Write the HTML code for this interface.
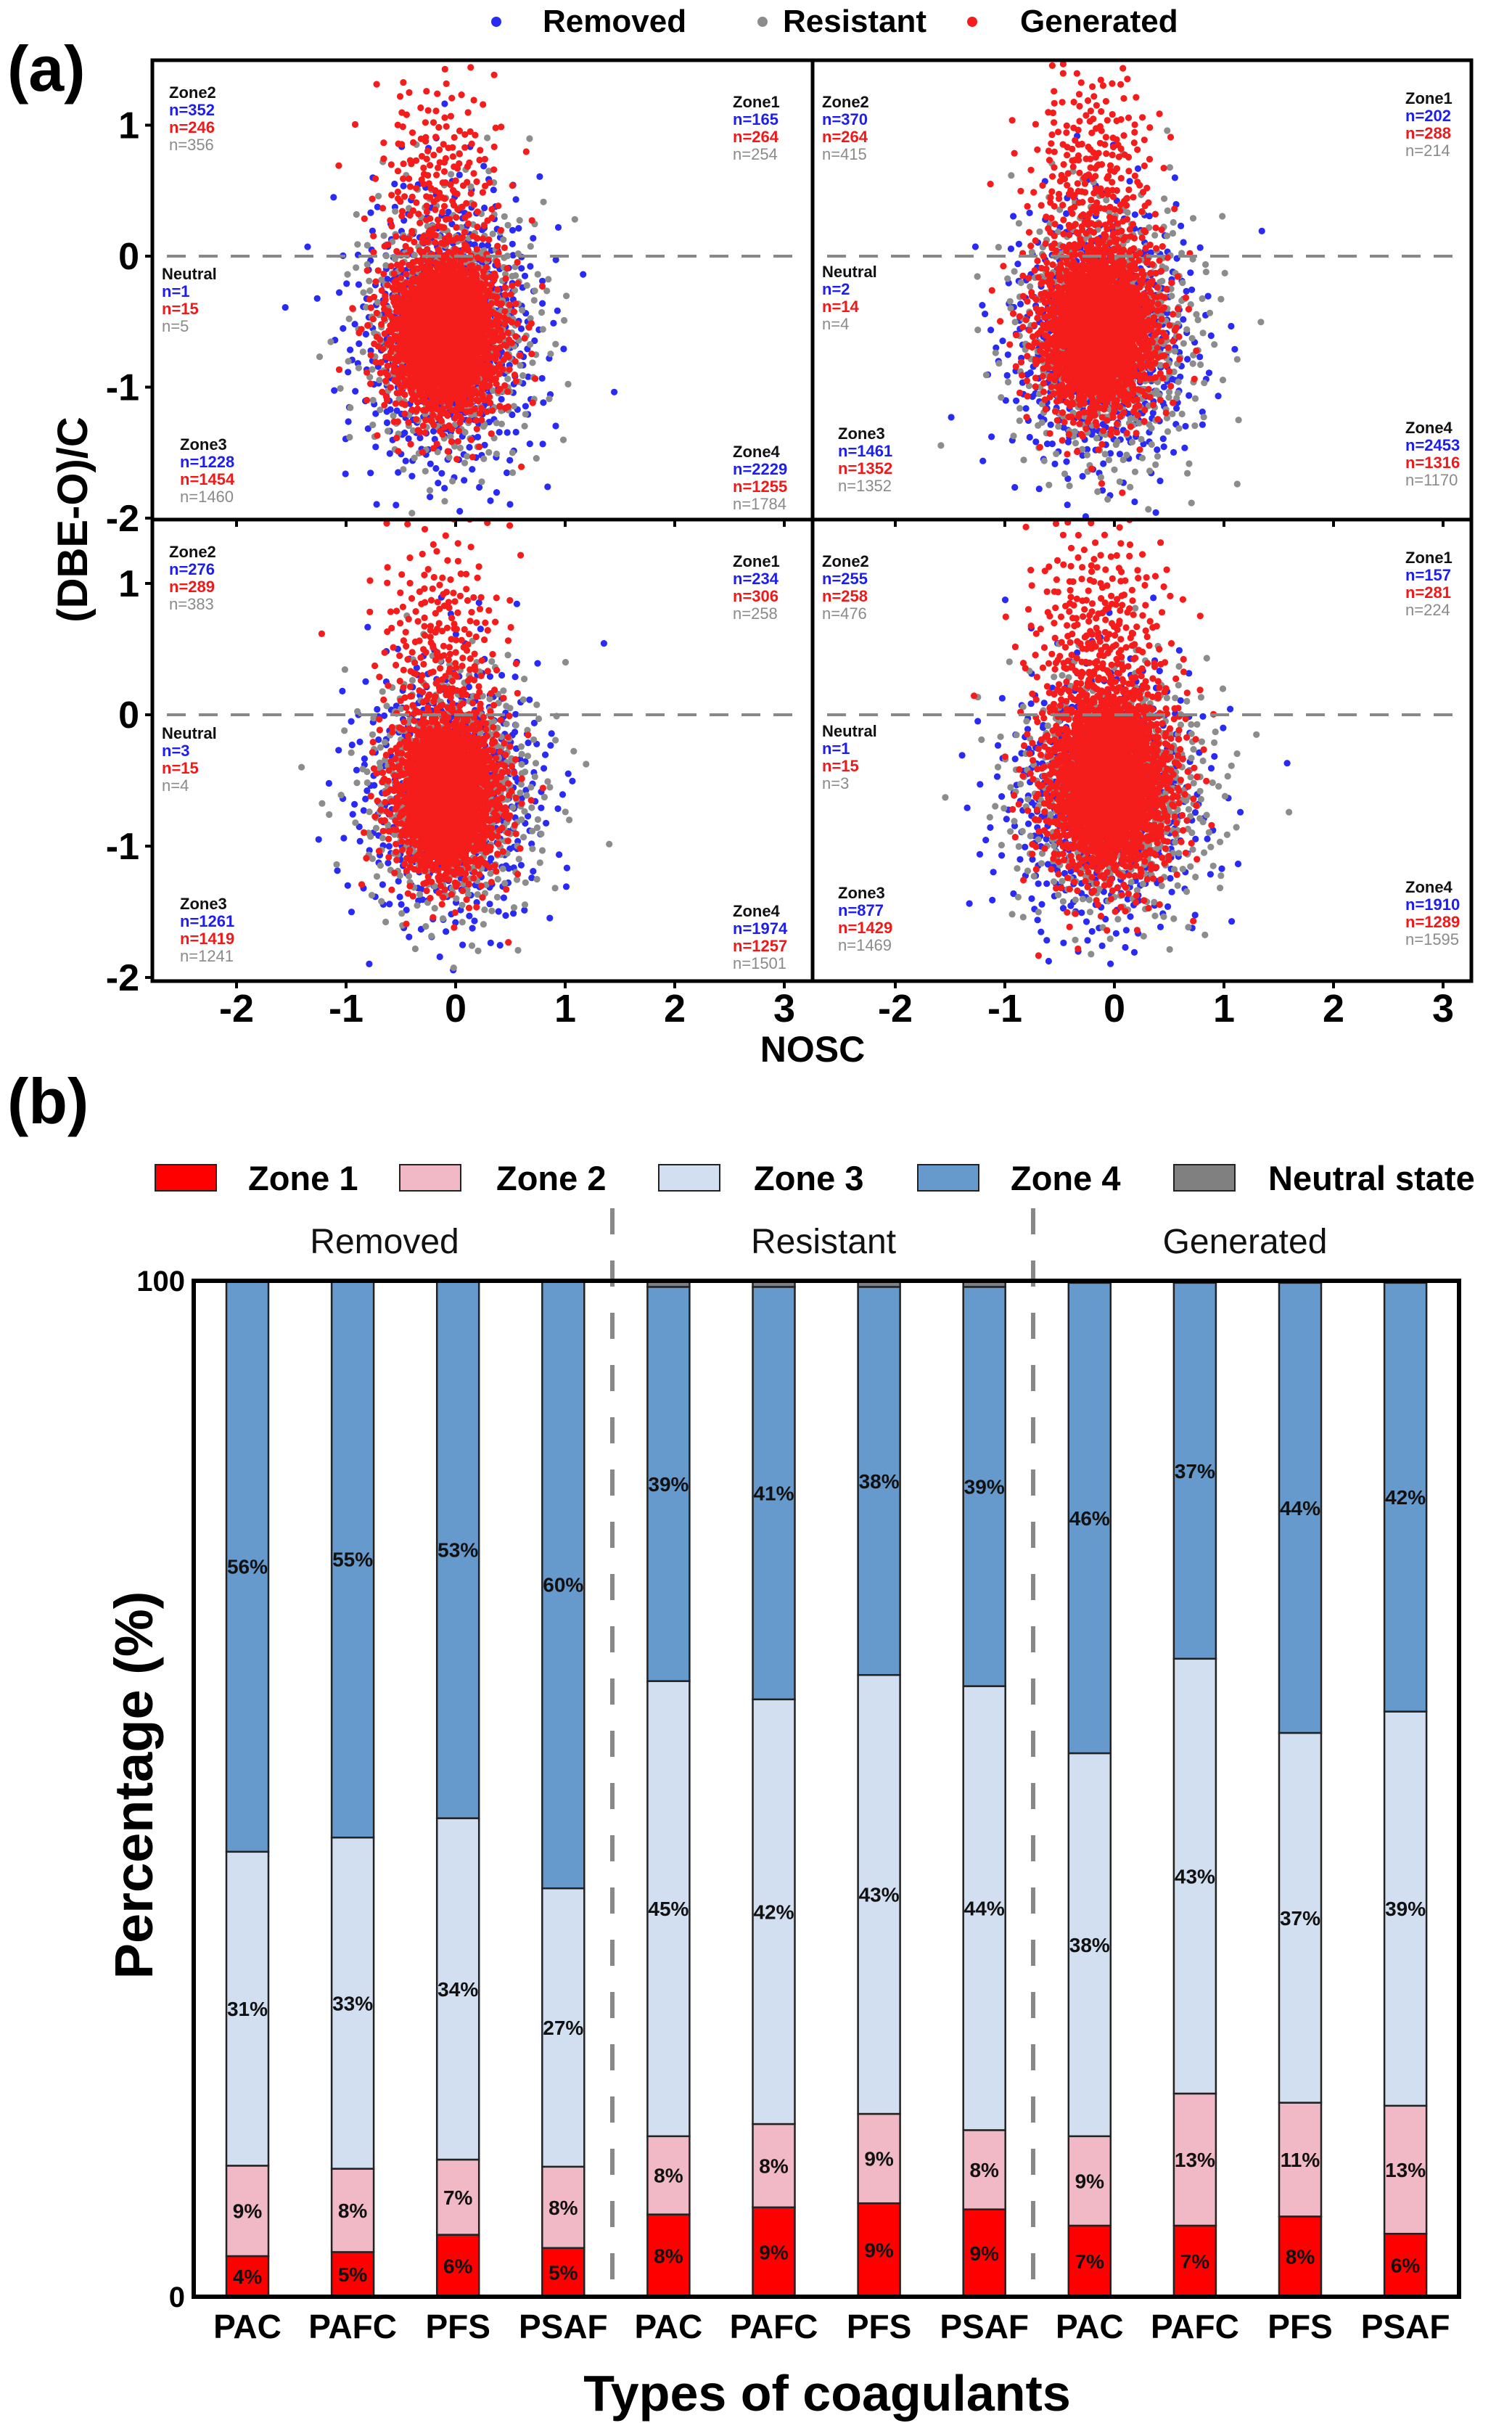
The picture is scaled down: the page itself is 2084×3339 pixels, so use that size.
<!DOCTYPE html>
<html><head><meta charset="utf-8"><style>
html,body{margin:0;padding:0;background:#fff}
svg{display:block}
text{font-family:"Liberation Sans",Arial,sans-serif}
</style></head><body>
<svg id="fig" width="2084" height="3339" viewBox="0 0 2084 3339" xmlns="http://www.w3.org/2000/svg">
<g id="partA"></g>
<g id="partB"></g>
</svg>
<script>
// ---------- Panel (a) data ----------
const cloudSeries = ['removed','resistant','generated','generated'];
const panelCloudCx = [[-0.08,-0.05,-0.1,-0.15],[-0.12,-0.05,-0.15,-0.2],[-0.05,-0.02,-0.08,-0.12],[-0.1,0.0,-0.05,-0.15]];
const panelCloudCy = [[-0.6,-0.55,-0.6,0.5],[-0.65,-0.6,-0.55,0.6],[-0.6,-0.6,-0.6,0.5],[-0.65,-0.6,-0.5,0.6]];
const panelCloudSx = [[0.42,0.4,0.27,0.3],[0.42,0.42,0.28,0.3],[0.42,0.4,0.25,0.3],[0.45,0.45,0.3,0.33]];
const panelCloudSy = [[0.55,0.5,0.32,0.45],[0.5,0.5,0.34,0.45],[0.5,0.45,0.32,0.45],[0.5,0.45,0.38,0.45]];
const panelCloudN = [[700,650,1700,220],[700,700,1700,260],[650,650,1600,230],[650,700,1800,280]];
const zoneNames = ['Zone2','Zone1','Neutral','Zone3','Zone4'];
const nRemoved = [[352,165,1,1228,2229],[370,202,2,1461,2453],[276,234,3,1261,1974],[255,157,1,877,1910]];
const nGenerated = [[246,264,15,1454,1255],[264,288,14,1352,1316],[289,306,15,1419,1257],[258,281,15,1429,1289]];
const nResistant = [[356,254,5,1460,1784],[415,214,4,1352,1170],[383,258,4,1241,1501],[476,224,3,1469,1595]];
const xTicks = [-2,-1,0,1,2,3];
const yTicks = [-2,-1,0,1];

// ---------- Panel (b) data ----------
const coagulants = ['PAC','PAFC','PFS','PSAF','PAC','PAFC','PFS','PSAF','PAC','PAFC','PFS','PSAF'];
const groups = ['Removed','Resistant','Generated'];
const zone1 = [4.0,4.4,6.1,4.8, 8.1,8.8,9.2,8.6, 7.0,7.0,7.9,6.2];
const zone2 = [8.9,8.2,7.4,8.0, 7.7,8.2,8.8,7.8, 8.8,13.0,11.2,12.6];
const zone3 = [30.9,32.6,33.6,27.4, 44.8,41.8,43.2,43.7, 37.7,42.8,36.4,38.8];
const zone4 = [56.2,54.8,52.9,59.8, 38.8,40.6,38.2,39.3, 46.3,37.0,44.3,42.2];
const lab1 = ['4%','5%','6%','5%','8%','9%','9%','9%','7%','7%','8%','6%'];
const lab2 = ['9%','8%','7%','8%','8%','8%','9%','8%','9%','13%','11%','13%'];
const lab3 = ['31%','33%','34%','27%','45%','42%','43%','44%','38%','43%','37%','39%'];
const lab4 = ['56%','55%','53%','60%','39%','41%','38%','39%','46%','37%','44%','42%'];

const NS='http://www.w3.org/2000/svg';
function mk(parent,tag,attrs,txt){const e=document.createElementNS(NS,tag);for(const k in attrs)e.setAttribute(k,attrs[k]);if(txt!==undefined)e.textContent=txt;parent.appendChild(e);return e;}
const A=document.getElementById('partA'), B=document.getElementById('partB');

const colors={removed:'#2a2af5',resistant:'#8c8c8c',generated:'#f51c1c'};
let t=mk(A,'text',{x:10,y:125,'font-size':88,'font-weight':'bold'},'(a)');


const legA=[['removed','Removed',684,748],['resistant','Resistant',1051,1079],['generated','Generated',1340,1406]];
legA.forEach(l=>{
  const c=mk(A,'circle',{cx:l[2],cy:30,r:7,fill:colors[l[0]]});
  
  
  const tx=mk(A,'text',{x:l[3],y:44,'font-size':44,'font-weight':'bold'},l[1]);
  
  
});
const panels=[{x0:210,x1:1120,y0:83,y1:716,zx:628,zy:353,sy:180.5},
              {x0:1120,x1:2028,y0:83,y1:716,zx:1536,zy:353,sy:180.5},
              {x0:210,x1:1120,y0:716,y1:1352,zx:628,zy:985,sy:181},
              {x0:1120,x1:2028,y0:716,y1:1352,zx:1536,zy:985,sy:181}];
const sx=151;
function halton(i,b){let f=1,r=0;while(i>0){f/=b;r+=f*(i%b);i=Math.floor(i/b);}return r;}
panels.forEach((p,pi)=>{
  const g=mk(A,'g',{});
  
  
  const clipId='clip'+pi;
  const cp=mk(g,'clipPath',{id:clipId});mk(cp,'rect',{x:p.x0,y:p.y0,width:p.x1-p.x0,height:p.y1-p.y0});
  const pts=mk(g,'g',{'clip-path':'url(#'+clipId+')'});
  const X=v=>p.zx+v*sx, Y=v=>p.zy-v*p.sy;
  let idx=1+pi*9000;
  cloudSeries.forEach((s,ci)=>{
    const sg=mk(pts,'g',{fill:colors[s]});
    
    
    for(let k=0;k<panelCloudN[pi][ci];k++){
      idx++;
      const u=Math.max(1e-4,halton(idx,2)),v=halton(idx,3);
      const rad=Math.sqrt(-2*Math.log(u)), a=2*Math.PI*v;
      const xv=panelCloudCx[pi][ci]+panelCloudSx[pi][ci]*rad*Math.cos(a);
      const yv=panelCloudCy[pi][ci]+panelCloudSy[pi][ci]*rad*Math.sin(a);
      if(yv>1.5||yv<-2)continue;
      if(ci===3&&yv<0)continue;
      mk(sg,'circle',{cx:X(xv).toFixed(1),cy:Y(yv).toFixed(1),r:4.6});
    }
  });
  const dl=mk(g,'line',{x1:p.x0+20,x2:p.x1-20,y1:Y(0),y2:Y(0),stroke:'#888',"stroke-width":4,"stroke-dasharray":"26 18"});
  
  
  mk(g,'rect',{x:p.x0,y:p.y0,width:p.x1-p.x0,height:p.y1-p.y0,fill:'none',stroke:'#000','stroke-width':5});
  xTicks.forEach(v=>mk(g,'line',{x1:X(v),x2:X(v),y1:p.y1,y2:p.y1+10,stroke:'#000','stroke-width':4}));
  if(pi%2===0) yTicks.forEach(v=>{mk(g,'line',{x1:p.x0-10,x2:p.x0,y1:Y(v),y2:Y(v),stroke:'#000','stroke-width':4});
    const tl=mk(g,'text',{x:p.x0-18,y:Y(v)+18,'font-size':52,'font-weight':'bold','text-anchor':'end'},String(v));
    
    });
  if(pi>=2) xTicks.forEach(v=>{const tl=mk(g,'text',{x:X(v),y:1408,'font-size':54,'font-weight':'bold','text-anchor':'middle'},String(v));
    
    });
  const oy=p.y0-83;
  const pos=[[233,135],[1010,148],[223,385],[248,620],[1010,630]];
  const posR=[[1133,148],[1937,143],[1133,382],[1155,605],[1937,597]];
  zoneNames.forEach((z,zi)=>{
    let px,py;
    if(pi%2===0){px=pos[zi][0];py=pos[zi][1]+oy;}else{px=posR[zi][0];py=posR[zi][1]+oy;}
    const ag=mk(g,'g',{'font-size':22,'font-weight':'bold'});
    
    
    mk(ag,'text',{x:px,y:py,fill:'#111'},z);
    mk(ag,'text',{x:px,y:py+24,fill:'#1d1df0'},'n='+nRemoved[pi][zi]);
    mk(ag,'text',{x:px,y:py+48,fill:'#f01818'},'n='+nGenerated[pi][zi]);
    mk(ag,'text',{x:px,y:py+72,fill:'#8a8a8a','font-weight':'normal'},'n='+nResistant[pi][zi]);
  });
});
t=mk(A,'text',{x:0,y:0,'font-size':58,'font-weight':'bold','text-anchor':'middle',transform:'translate(120,716) rotate(-90)'},'(DBE-O)/C');


t=mk(A,'text',{x:1120,y:1463,'font-size':50,'font-weight':'bold','text-anchor':'middle'},'NOSC');



// ---- panel b ----
t=mk(B,'text',{x:10,y:1548,'font-size':88,'font-weight':'bold'},'(b)');


const zc=['#ff0000','#f0b9c5','#d1dff0','#6699cc','#808080'];
const legB=[['Zone 1',214,342],['Zone 2',551,684],['Zone 3',908,1039],['Zone 4',1265,1393],['Neutral state',1618,1748]];
legB.forEach((l,i)=>{
  const r=mk(B,'rect',{x:l[1],y:1605,width:84,height:36,fill:zc[i],stroke:'#222','stroke-width':2});
  
  
  const tx=mk(B,'text',{x:l[2],y:1640,'font-size':47,'font-weight':'bold'},l[0]);
  
  
});
const bx0=267,bx1=2011,by0=1765,by1=3165;
const Yb=v=>by1-v*(by1-by0)/100;
const barW=58, barStart=341, barStep=145.1;
const Xb=i=>barStart+i*barStep;
[530,1135,1716].forEach((cx,i)=>{const tx=mk(B,'text',{x:cx,y:1727,'font-size':48,'text-anchor':'middle',fill:'#111'},groups[i]);
  
  });
[844,1424].forEach(x=>{const l=mk(B,'line',{x1:x,x2:x,y1:1665,y2:by1,stroke:'#888','stroke-width':6,'stroke-dasharray':'36 36'});
  
  });
coagulants.forEach((c,i)=>{
  const segs=[zone1[i],zone2[i],zone3[i],zone4[i]];
  const neutral=Math.max(0,100-segs.reduce((a,b)=>a+b,0));
  segs.push(neutral);
  const labs=[lab1[i],lab2[i],lab3[i],lab4[i]];
  const g=mk(B,'g',{});
  
  
  let acc=0;
  segs.forEach((v,k)=>{
    if(v<=0)return;
    const yTop=Yb(acc+v), yBot=Yb(acc);
    const r=mk(g,'rect',{x:Xb(i)-barW/2,y:yTop,width:barW,height:yBot-yTop,fill:zc[k],stroke:'#222','stroke-width':2.5});
    
    
    if(k<4){const tl=mk(g,'text',{x:Xb(i),y:(yTop+yBot)/2+10,'font-size':28,'font-weight':'bold','text-anchor':'middle',fill:'#111'},labs[k]);
      
      }
    acc+=v;
  });
  const xl=mk(B,'text',{x:Xb(i),y:3222,'font-size':46,'font-weight':'bold','text-anchor':'middle'},c);
  
  
});
const fr=mk(B,'rect',{x:bx0,y:by0,width:bx1-bx0,height:by1-by0,fill:'none',stroke:'#000','stroke-width':6});


[['100',by0],['0',by1]].forEach(a=>{const tl=mk(B,'text',{x:bx0-12,y:a[1]+14,'font-size':40,'font-weight':'bold','text-anchor':'end'},a[0]);
  
  });
t=mk(B,'text',{x:0,y:0,'font-size':74,'font-weight':'bold','text-anchor':'middle',transform:'translate(210,2460) rotate(-90)'},'Percentage (%)');


t=mk(B,'text',{x:1140,y:3322,'font-size':70,'font-weight':'bold','text-anchor':'middle'},'Types of coagulants');


</script>
</body></html>
